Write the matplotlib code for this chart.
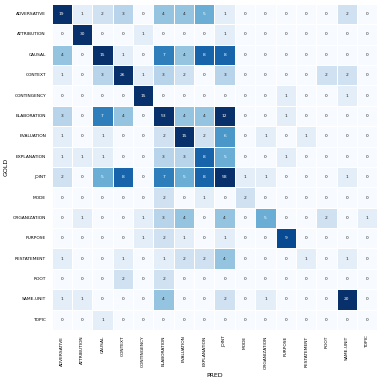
import numpy as np
import matplotlib
matplotlib.use("Agg")
import matplotlib.pyplot as plt
import seaborn as sns

labels = ["ADVERSATIVE", "ATTRIBUTION", "CAUSAL", "CONTEXT", "CONTINGENCY",
          "ELABORATION", "EVALUATION", "EXPLANATION", "JOINT", "MODE",
          "ORGANIZATION", "PURPOSE", "RESTATEMENT", "ROOT", "SAME-UNIT", "TOPIC"]

# rows = gold, columns = pred
adversative  = [19, 1, 2, 3, 0, 4, 4, 5, 1, 0, 0, 0, 0, 0, 2, 0]
attribution  = [0, 30, 0, 0, 1, 0, 0, 0, 1, 0, 0, 0, 0, 0, 0, 0]
causal       = [4, 0, 15, 1, 0, 7, 4, 8, 8, 0, 0, 0, 0, 0, 0, 0]
context      = [1, 0, 3, 26, 1, 3, 2, 0, 3, 0, 0, 0, 0, 2, 2, 0]
contingency  = [0, 0, 0, 0, 15, 0, 0, 0, 0, 0, 0, 1, 0, 0, 1, 0]
elaboration  = [3, 0, 7, 4, 0, 53, 4, 4, 12, 0, 0, 1, 0, 0, 0, 0]
evaluation   = [1, 0, 1, 0, 0, 2, 15, 2, 6, 0, 1, 0, 1, 0, 0, 0]
explanation  = [1, 1, 1, 0, 0, 3, 3, 8, 5, 0, 0, 1, 0, 0, 0, 0]
joint        = [2, 0, 5, 8, 0, 7, 5, 8, 58, 1, 1, 0, 0, 0, 1, 0]
mode         = [0, 0, 0, 0, 0, 2, 0, 1, 0, 2, 0, 0, 0, 0, 0, 0]
organization = [0, 1, 0, 0, 1, 3, 4, 0, 4, 0, 5, 0, 0, 2, 0, 1]
purpose      = [0, 0, 0, 0, 1, 2, 1, 0, 1, 0, 0, 9, 0, 0, 0, 0]
restatement  = [1, 0, 0, 1, 0, 1, 2, 2, 4, 0, 0, 0, 1, 0, 1, 0]
root         = [0, 0, 0, 2, 0, 2, 0, 0, 0, 0, 0, 0, 0, 0, 0, 0]
same_unit    = [1, 1, 0, 0, 0, 4, 0, 0, 2, 0, 1, 0, 0, 0, 20, 0]
topic        = [0, 0, 1, 0, 0, 0, 0, 0, 0, 0, 0, 0, 0, 0, 0, 0]

cm = np.array([adversative, attribution, causal, context, contingency,
               elaboration, evaluation, explanation, joint, mode,
               organization, purpose, restatement, root, same_unit, topic])

fig = plt.figure(figsize=(3.82, 3.82), dpi=100)
ax = fig.add_axes([0.135, 0.136, 0.853, 0.854])

sns.heatmap(cm, ax=ax, cmap="Blues", vmin=0, vmax=10, cbar=False,
            annot=True, fmt="d", annot_kws={"fontsize": 3.2},
            linewidths=0.4, linecolor="white",
            xticklabels=labels, yticklabels=labels)

ax.tick_params(axis="both", length=0, labelsize=3.2, pad=4)
plt.setp(ax.get_xticklabels(), rotation=90)
plt.setp(ax.get_yticklabels(), rotation=0)
ax.set_xlabel("PRED", fontsize=4.5, labelpad=3)
ax.set_ylabel("GOLD", fontsize=4.5, labelpad=3)

fig.savefig("out.png", dpi=100)
